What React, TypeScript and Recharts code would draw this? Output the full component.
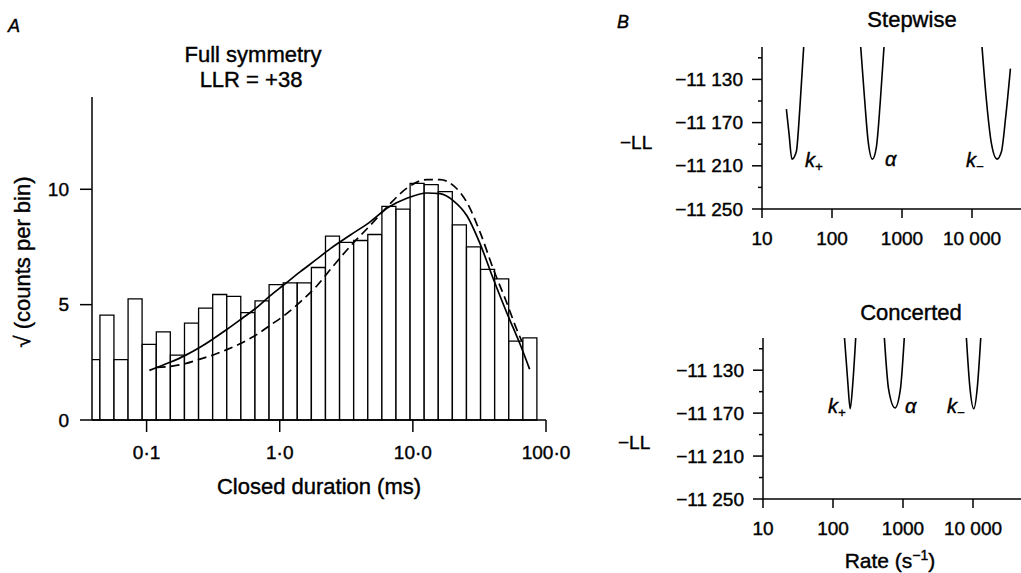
import React from 'react';
import { ComposedChart, LineChart, Bar, Line, XAxis, YAxis } from 'recharts';

const FONT = '"Liberation Sans", Arial, Helvetica, sans-serif';
const TEXT_STROKE = 0.4;

// ---------- Panel A : closed-time histogram ----------
const binCentresMs = [
  0.03950, 0.05040, 0.06430, 0.08200, 0.1047, 0.1336, 0.1704, 0.2175, 0.2776, 0.3542,
  0.4520, 0.5770, 0.7365, 0.9397, 1.199, 1.530, 1.953, 2.492, 3.181, 4.059,
  5.180, 6.611, 8.438, 10.77, 13.74, 17.53, 22.37, 28.55, 36.44, 46.50,
  59.34, 75.72,
];
const sqrtCounts = [
  2.62, 4.55, 2.62, 5.25, 3.28, 3.82, 2.81, 4.20, 4.85, 5.44,
  5.36, 4.65, 5.16, 5.87, 5.94, 5.94, 6.61, 7.97, 7.70, 7.78,
  8.04, 9.26, 9.14, 10.26, 10.20, 9.90, 8.46, 7.50, 6.53, 6.12,
  3.42, 3.56,
];
const solidFitMs = [
  0.105, 0.150, 0.194, 0.252, 0.317, 0.400, 0.518, 0.671, 0.845, 1.064,
  1.422, 1.897, 2.388, 3.373, 4.775, 6.561, 9.016, 12.74, 16.03, 20.18,
  25.47, 32.06, 40.36, 50.82, 64.12, 75.34,
];
const solidFitValues = [
  2.15, 2.50, 2.79, 3.15, 3.52, 3.92, 4.39, 4.87, 5.38, 5.84,
  6.42, 6.97, 7.42, 8.01, 8.59, 9.22, 9.61, 9.84, 9.81, 9.50,
  8.85, 7.62, 6.09, 4.64, 3.26, 2.20,
];
const dashedFitMs = [
  0.119, 0.150, 0.194, 0.252, 0.317, 0.400, 0.518, 0.671, 0.845, 1.064,
  1.422, 1.897, 2.460, 3.373, 4.775, 6.561, 9.016, 12.74, 16.03, 20.18,
  25.47, 32.06, 40.36, 50.82, 60.53, 66.07,
];
const dashedFitValues = [
  2.28, 2.32, 2.44, 2.64, 2.82, 3.05, 3.34, 3.70, 4.10, 4.50,
  5.11, 5.81, 6.60, 7.52, 8.43, 9.30, 10.05, 10.42, 10.42, 10.16,
  9.43, 8.12, 6.52, 5.07, 3.90, 3.40,
];
const durationTicksMs = [0.1, 1, 10, 100];
const durationTickLabels = ['0·1', '1·0', '10·0', '100·0'];
const countTicks = [0, 5, 10];

// ---------- Panel B : log-likelihood profiles ----------
const llTicks = [-11250, -11230, -11210, -11190, -11170, -11150, -11130, -11110];
const llMajorTicks = [-11250, -11210, -11170, -11130];
const rateTicks = [10, 100, 1000, 10000];
const rateTickLabels = ['10', '100', '1000', '10 000'];

const stepKPlusRate = [22.3, 24.3, 26.8, 30.9, 34.6, 39.4];
const stepKPlusLL = [-11157.6, -11180, -11203.8, -11197, -11158.5, -11100];
const stepAlphaRate = [257, 293, 327, 378, 431, 491, 553];
const stepAlphaLL = [-11100, -11149.3, -11186.2, -11203.8, -11192.4, -11149.3, -11100];
const stepKMinusRate = [13900, 16070, 18930, 22750, 26300, 30300, 35400];
const stepKMinusLL = [-11100, -11149.3, -11189.3, -11203.8, -11197, -11164.7, -11120];

const concKPlusRate = [146, 163, 176, 192, 211];
const concKPlusLL = [-11100, -11141.9, -11165.9, -11141.9, -11100];
const concAlphaRate = [542, 624, 769, 916, 1043];
const concAlphaLL = [-11100, -11148.2, -11165.2, -11148.2, -11100];
const concKMinusRate = [8050, 9000, 10260, 11560, 12900];
const concKMinusLL = [-11100, -11145, -11165.9, -11145, -11100];

// ---------- helpers ----------
const toLogRows = (xs: number[], ys: number[]) =>
  xs.map((v, i) => ({ x: Math.log10(v), y: ys[i] }));

const histData = toLogRows(binCentresMs, sqrtCounts);
const solidData = toLogRows(solidFitMs, solidFitValues);
const dashedData = toLogRows(dashedFitMs, dashedFitValues);

const durationLogTicks = durationTicksMs.map((v) => Math.log10(v));
const durationLabel = (v: number) => {
  const i = durationLogTicks.findIndex((t) => Math.abs(t - v) < 1e-6);
  return i >= 0 ? durationTickLabels[i] : '';
};
const rateLogTicks = rateTicks.map((v) => Math.log10(v));
const rateLabel = (v: number) => {
  const i = rateLogTicks.findIndex((t) => Math.abs(t - v) < 1e-6);
  return i >= 0 ? rateTickLabels[i] : '';
};
const llLabel = (v: number) => {
  const s = String(Math.abs(v));
  return '\u2212' + s.slice(0, s.length - 3) + ' ' + s.slice(s.length - 3);
};

const tickStyle = { fontSize: 19, fill: '#000', stroke: '#000', strokeWidth: TEXT_STROKE };

const Y_TICK_SIZE = 10;
const Y_TICK_MARGIN = 9;
const LLTick = (props: any) => {
  const { x, y, payload } = props;
  const axisX = x + Y_TICK_SIZE + Y_TICK_MARGIN;
  const major = llMajorTicks.includes(payload.value);
  return (
    <g>
      <line x1={axisX - (major ? 10 : 4)} x2={axisX} y1={y} y2={y} stroke="#000" strokeWidth={1.5} />
      {major && (
        <text x={x} y={y} dy="0.35em" textAnchor="end" fontSize={19} fill="#000" stroke="#000" strokeWidth={TEXT_STROKE}>
          {llLabel(payload.value)}
        </text>
      )}
    </g>
  );
};

type Curve = { rate: number[]; ll: number[] };

function LLPanel({ curves, left, top, height, marginTop, marginBottom }: {
  curves: Curve[]; left: number; top: number; height: number; marginTop: number; marginBottom: number;
}) {
  return (
    <div style={{ position: 'absolute', left, top }}>
      <LineChart width={421} height={height} margin={{ top: marginTop, right: 0, bottom: marginBottom, left: 0 }}>
        <XAxis
          type="number"
          dataKey="x"
          domain={[1, 4.7]}
          allowDataOverflow
          ticks={rateLogTicks}
          interval={0}
          tickFormatter={rateLabel}
          tickSize={9}
          tickMargin={13.5}
          height={30}
          stroke="#000"
          strokeWidth={1.5}
          tick={tickStyle}
        />
        <YAxis
          type="number"
          domain={[-11250, -11100]}
          allowDataOverflow
          ticks={llTicks}
          interval={0}
          width={162}
          tickSize={Y_TICK_SIZE}
          tickMargin={Y_TICK_MARGIN}
          tickLine={false}
          tick={<LLTick />}
          stroke="#000"
          strokeWidth={1.5}
        />
        {curves.map((c, i) => (
          <Line
            key={i}
            data={toLogRows(c.rate, c.ll)}
            dataKey="y"
            type="monotone"
            stroke="#000"
            strokeWidth={1.6}
            dot={false}
            activeDot={false}
            isAnimationActive={false}
          />
        ))}
      </LineChart>
    </div>
  );
}

export default function App() {
  const stepCurves: Curve[] = [
    { rate: stepKPlusRate, ll: stepKPlusLL },
    { rate: stepAlphaRate, ll: stepAlphaLL },
    { rate: stepKMinusRate, ll: stepKMinusLL },
  ];
  const concCurves: Curve[] = [
    { rate: concKPlusRate, ll: concKPlusLL },
    { rate: concAlphaRate, ll: concAlphaLL },
    { rate: concKMinusRate, ll: concKMinusLL },
  ];
  const it = { fontStyle: 'italic' as const };
  return (
    <div style={{ position: 'absolute', left: 0, top: 0, width: 1021, height: 573, background: '#fff', fontFamily: FONT, overflow: 'hidden' }}>
      <div style={{ position: 'absolute', left: 0, top: 0 }}>
        <ComposedChart
          width={600}
          height={573}
          data={histData}
          margin={{ top: 97, right: 54, bottom: 123, left: 32 }}
          barCategoryGap={0}
          barGap={0}
        >
          <XAxis
            type="number"
            dataKey="x"
            domain={[-1.41, 2]}
            allowDataOverflow
            ticks={durationLogTicks}
            interval={0}
            tickFormatter={durationLabel}
            tickSize={12}
            tickMargin={14}
            height={30}
            stroke="#000"
            strokeWidth={1.5}
            tick={tickStyle}
          />
          <XAxis xAxisId="curve" type="number" dataKey="x" domain={[-1.41, 2]} allowDataOverflow hide />
          <YAxis
            type="number"
            domain={[0, 14]}
            ticks={countTicks}
            interval={0}
            width={60}
            tickSize={12}
            tickMargin={11}
            stroke="#000"
            strokeWidth={1.5}
            tick={tickStyle}
          />
          <Bar dataKey="y" fill="#fff" stroke="#000" strokeWidth={1.3} isAnimationActive={false} />
          <Line
            xAxisId="curve"
            data={solidData}
            dataKey="y"
            type="monotone"
            stroke="#000"
            strokeWidth={1.7}
            dot={false}
            activeDot={false}
            isAnimationActive={false}
          />
          <Line
            xAxisId="curve"
            data={dashedData}
            dataKey="y"
            type="monotone"
            stroke="#000"
            strokeWidth={1.7}
            strokeDasharray="9 5"
            dot={false}
            activeDot={false}
            isAnimationActive={false}
          />
        </ComposedChart>
      </div>

      <LLPanel curves={stepCurves} left={600} top={0} height={290} marginTop={47} marginBottom={51} />
      <LLPanel curves={concCurves} left={601} top={290} height={283} marginTop={48} marginBottom={44} />

      <svg width={1021} height={573} style={{ position: 'absolute', left: 0, top: 0, pointerEvents: 'none' }} fontFamily={FONT} fill="#000" stroke="#000" strokeWidth={TEXT_STROKE}>
        <text x={8} y={32} fontSize={18} style={it}>A</text>
        <text x={617} y={28} fontSize={18} style={it}>B</text>

        <text x={253} y={62} fontSize={22} textAnchor="middle">Full symmetry</text>
        <text x={251} y={87} fontSize={22} textAnchor="middle">LLR = +38</text>
        <text x={29.5} y={262} fontSize={22} textAnchor="middle" transform="rotate(-90 29.5 262)">√ (counts per bin)</text>
        <text x={319} y={494} fontSize={22} textAnchor="middle">Closed duration (ms)</text>

        <text x={912} y={27} fontSize={22} textAnchor="middle">Stepwise</text>
        <text x={911} y={320} fontSize={22} textAnchor="middle">Concerted</text>
        <text x={620} y={149} fontSize={19}>−LL</text>
        <text x={618} y={449} fontSize={19}>−LL</text>
        <text x={890} y={568} fontSize={21} textAnchor="middle">
          Rate (s<tspan fontSize={14} dy={-8}>−1</tspan><tspan dy={8}>)</tspan>
        </text>

        <text x={805} y={167} fontSize={20} style={it}>k<tspan fontSize={13} dy={4}>+</tspan></text>
        <text x={885} y={166} fontSize={20} style={it}>α</text>
        <text x={966} y={167} fontSize={20} style={it}>k<tspan fontSize={13} dy={4}>−</tspan></text>

        <text x={828} y={413} fontSize={20} style={it}>k<tspan fontSize={13} dy={4}>+</tspan></text>
        <text x={905} y={413} fontSize={20} style={it}>α</text>
        <text x={947} y={413} fontSize={20} style={it}>k<tspan fontSize={13} dy={4}>−</tspan></text>
      </svg>
    </div>
  );
}
